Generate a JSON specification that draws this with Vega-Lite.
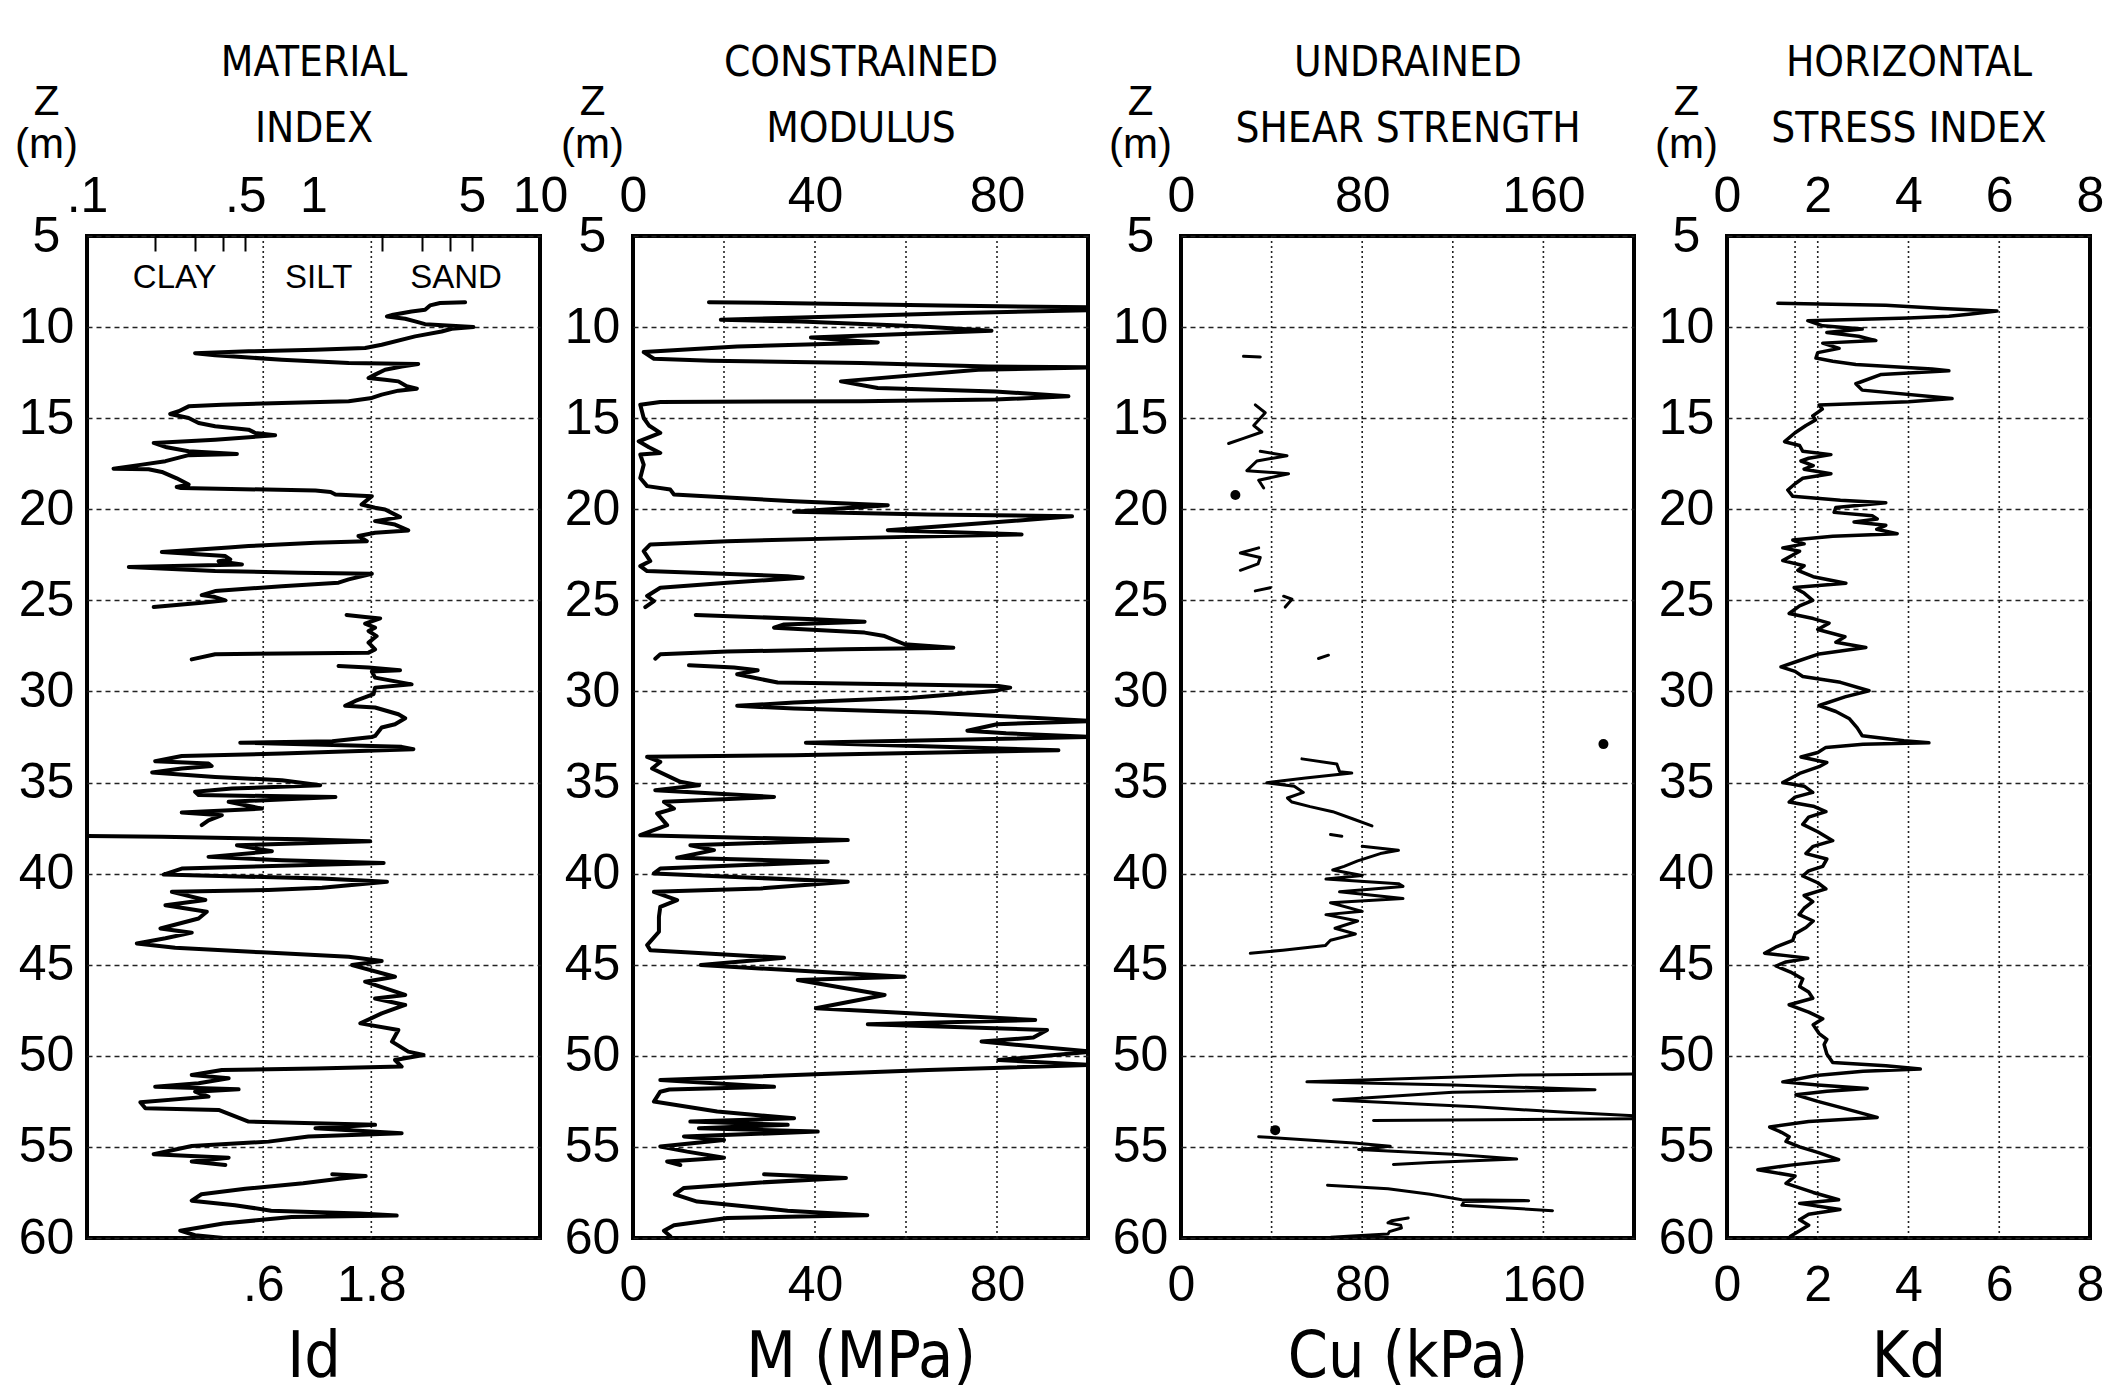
{
  "$schema": "https://vega.github.io/schema/vega-lite/v6.json",
  "background": "white",
  "padding": {"left": 12, "top": 39, "right": 0, "bottom": 0},
  "autosize": {"type": "pad"},
  "spacing": 93,
  "bounds": "flush",
  "config": {
    "font": "Liberation Sans",
    "view": {"stroke": "#000", "strokeWidth": 4},
    "axis": {
      "labelFont": "Liberation Sans", "labelFontSize": 50, "labelColor": "#000",
      "titleColor": "#000", "titleFontWeight": "normal",
      "domain": false, "ticks": false, "tickSize": 0, "grid": false,
      "labelOverlap": false, "labelFlush": false
    }
  },
  "datasets": {
    "mi": [
      {"z":8.63,"v":4.67,"s":1},{"z":8.68,"v":3.62,"s":1},{"z":8.81,"v":3.27,"s":1},{"z":9.05,"v":3.11,"s":1},{"z":9.14,"v":2.71,"s":1},{"z":9.32,"v":2.25,"s":1},{"z":9.42,"v":2.11,"s":1},{"z":9.54,"v":2.54,"s":1},{"z":9.69,"v":2.81,"s":1},{"z":9.84,"v":3.11,"s":1},{"z":10.0,"v":5.08,"s":1},{"z":10.09,"v":4.08,"s":1},{"z":10.24,"v":3.68,"s":1},{"z":10.51,"v":2.81,"s":1},{"z":10.97,"v":2.0,"s":1},{"z":11.15,"v":1.69,"s":1},{"z":11.24,"v":1.02,"s":1},{"z":11.33,"v":0.517,"s":1},{"z":11.43,"v":0.3,"s":1},{"z":11.55,"v":0.368,"s":1},{"z":11.79,"v":0.725,"s":1},{"z":11.97,"v":1.43,"s":1},{"z":12.03,"v":2.9,"s":1},{"z":12.16,"v":2.45,"s":1},{"z":12.34,"v":2.07,"s":1},{"z":12.61,"v":1.87,"s":1},{"z":12.8,"v":1.75,"s":1},{"z":12.89,"v":2.07,"s":1},{"z":12.98,"v":2.37,"s":1},{"z":13.25,"v":2.58,"s":1},{"z":13.38,"v":2.86,"s":1},{"z":13.49,"v":2.37,"s":1},{"z":13.71,"v":2.0,"s":1},{"z":13.89,"v":1.81,"s":1},{"z":14.07,"v":1.43,"s":1},{"z":14.17,"v":0.725,"s":1},{"z":14.26,"v":0.394,"s":1},{"z":14.35,"v":0.281,"s":1},{"z":14.62,"v":0.254,"s":1},{"z":14.77,"v":0.233,"s":1},{"z":14.99,"v":0.281,"s":1},{"z":15.26,"v":0.311,"s":1},{"z":15.44,"v":0.368,"s":1},{"z":15.63,"v":0.517,"s":1},{"z":15.81,"v":0.553,"s":1},{"z":15.94,"v":0.677,"s":1},{"z":16.18,"v":0.368,"s":1},{"z":16.36,"v":0.197,"s":1},{"z":16.6,"v":0.225,"s":1},{"z":16.82,"v":0.281,"s":1},{"z":16.96,"v":0.459,"s":1},{"z":17.03,"v":0.281,"s":1},{"z":17.36,"v":0.222,"s":1},{"z":17.55,"v":0.175,"s":1},{"z":17.77,"v":0.131,"s":1},{"z":17.8,"v":0.187,"s":1},{"z":17.95,"v":0.214,"s":1},{"z":18.3,"v":0.249,"s":1},{"z":18.64,"v":0.281,"s":1},{"z":18.78,"v":0.249,"s":1},{"z":18.83,"v":0.26,"s":1},{"z":18.97,"v":1.02,"s":1},{"z":19.05,"v":1.19,"s":1},{"z":19.19,"v":1.25,"s":1},{"z":19.28,"v":1.81,"s":1},{"z":19.74,"v":1.63,"s":1},{"z":19.92,"v":1.87,"s":1},{"z":20.01,"v":2.07,"s":1},{"z":20.43,"v":2.41,"s":1},{"z":20.65,"v":1.87,"s":1},{"z":20.84,"v":2.29,"s":1},{"z":21.16,"v":2.62,"s":1},{"z":21.29,"v":1.87,"s":1},{"z":21.47,"v":1.58,"s":1},{"z":21.75,"v":1.72,"s":1},{"z":21.84,"v":1.02,"s":1},{"z":22.02,"v":0.517,"s":1},{"z":22.1,"v":0.422,"s":1},{"z":22.35,"v":0.214,"s":1},{"z":22.57,"v":0.408,"s":1},{"z":22.75,"v":0.429,"s":1},{"z":22.85,"v":0.381,"s":1},{"z":23.03,"v":0.483,"s":1},{"z":23.17,"v":0.153,"s":1},{"z":23.39,"v":0.368,"s":1},{"z":23.48,"v":0.859,"s":1},{"z":23.54,"v":1.81,"s":1},{"z":23.85,"v":1.43,"s":1},{"z":24.03,"v":1.29,"s":1},{"z":24.22,"v":0.725,"s":1},{"z":24.49,"v":0.368,"s":1},{"z":24.71,"v":0.321,"s":1},{"z":24.82,"v":0.368,"s":1},{"z":25.0,"v":0.408,"s":1},{"z":25.13,"v":0.321,"s":1},{"z":25.37,"v":0.197,"s":1},
      {"z":25.8,"v":1.4,"s":2},{"z":25.91,"v":1.69,"s":2},{"z":25.99,"v":1.97,"s":2},{"z":26.28,"v":1.69,"s":2},{"z":26.5,"v":1.87,"s":2},{"z":26.68,"v":1.75,"s":2},{"z":26.96,"v":1.9,"s":2},{"z":27.32,"v":1.75,"s":2},{"z":27.69,"v":1.87,"s":2},{"z":27.87,"v":1.75,"s":2},{"z":27.96,"v":0.368,"s":2},{"z":28.24,"v":0.29,"s":2},
      {"z":28.6,"v":1.29,"s":3},{"z":28.69,"v":1.75,"s":3},{"z":28.84,"v":2.41,"s":3},{"z":28.91,"v":1.81,"s":3},{"z":29.24,"v":1.87,"s":3},{"z":29.61,"v":2.71,"s":3},{"z":29.79,"v":1.87,"s":3},{"z":30.15,"v":1.84,"s":3},{"z":30.52,"v":1.53,"s":3},{"z":30.79,"v":1.38,"s":3},{"z":30.88,"v":1.87,"s":3},{"z":31.25,"v":2.37,"s":3},{"z":31.47,"v":2.54,"s":3},{"z":31.8,"v":2.29,"s":3},{"z":31.98,"v":2.0,"s":3},{"z":32.44,"v":1.87,"s":3},{"z":32.5,"v":1.81,"s":3},{"z":32.73,"v":1.21,"s":3},{"z":32.81,"v":0.475,"s":3},{"z":33.04,"v":2.45,"s":3},{"z":33.17,"v":2.76,"s":3},{"z":33.41,"v":0.725,"s":3},{"z":33.54,"v":0.262,"s":3},{"z":33.83,"v":0.2,"s":3},{"z":33.96,"v":0.344,"s":3},{"z":34.09,"v":0.355,"s":3},{"z":34.23,"v":0.262,"s":3},{"z":34.45,"v":0.194,"s":3},{"z":34.69,"v":0.368,"s":3},{"z":34.87,"v":0.725,"s":3},{"z":35.15,"v":1.07,"s":3},{"z":35.33,"v":0.436,"s":3},{"z":35.51,"v":0.3,"s":3},{"z":35.69,"v":0.311,"s":3},{"z":35.79,"v":1.25,"s":3},{"z":36.06,"v":0.422,"s":3},{"z":36.43,"v":0.592,"s":3},{"z":36.65,"v":0.262,"s":3},{"z":36.79,"v":0.394,"s":3},{"z":37.07,"v":0.344,"s":3},{"z":37.34,"v":0.321,"s":3},
      {"z":37.9,"v":0.05,"s":4},{"z":37.98,"v":0.214,"s":4},{"z":38.11,"v":0.889,"s":4},{"z":38.22,"v":1.78,"s":4},{"z":38.44,"v":0.459,"s":4},{"z":38.77,"v":0.655,"s":4},{"z":39.08,"v":0.344,"s":4},{"z":39.26,"v":0.725,"s":4},{"z":39.41,"v":2.04,"s":4},{"z":39.72,"v":0.262,"s":4},{"z":40.05,"v":0.218,"s":4},{"z":40.27,"v":1.09,"s":4},{"z":40.45,"v":2.11,"s":4},{"z":40.78,"v":1.09,"s":4},{"z":40.9,"v":0.633,"s":4},{"z":41.0,"v":0.237,"s":4},{"z":41.45,"v":0.333,"s":4},{"z":41.73,"v":0.222,"s":4},{"z":42.09,"v":0.338,"s":4},{"z":42.46,"v":0.311,"s":4},{"z":43.01,"v":0.211,"s":4},{"z":43.24,"v":0.29,"s":4},{"z":43.55,"v":0.222,"s":4},{"z":43.83,"v":0.166,"s":4},{"z":44.07,"v":0.245,"s":4},{"z":44.32,"v":0.592,"s":4},{"z":44.56,"v":1.43,"s":4},{"z":44.8,"v":2.0,"s":4},{"z":45.02,"v":1.48,"s":4},{"z":45.66,"v":2.29,"s":4},{"z":45.93,"v":1.69,"s":4},{"z":46.66,"v":2.54,"s":4},{"z":46.85,"v":1.87,"s":4},{"z":47.21,"v":2.54,"s":4},{"z":47.67,"v":2.0,"s":4},{"z":48.22,"v":1.61,"s":4},{"z":48.58,"v":2.37,"s":4},{"z":49.22,"v":2.22,"s":4},{"z":49.77,"v":2.62,"s":4},{"z":49.95,"v":3.06,"s":4},{"z":50.23,"v":2.29,"s":4},{"z":50.59,"v":2.45,"s":4},{"z":50.69,"v":1.02,"s":4},{"z":50.78,"v":0.394,"s":4},{"z":51.05,"v":0.29,"s":4},{"z":51.23,"v":0.422,"s":4},{"z":51.51,"v":0.311,"s":4},{"z":51.7,"v":0.2,"s":4},{"z":51.84,"v":0.467,"s":4},{"z":51.97,"v":0.3,"s":4},{"z":52.24,"v":0.344,"s":4},{"z":52.55,"v":0.172,"s":4},{"z":52.88,"v":0.181,"s":4},{"z":52.97,"v":0.381,"s":4},{"z":53.61,"v":0.517,"s":4},{"z":53.79,"v":1.87,"s":4},{"z":53.98,"v":1.02,"s":4},{"z":54.25,"v":2.45,"s":4},{"z":54.43,"v":0.95,"s":4},{"z":54.71,"v":0.633,"s":4},{"z":54.95,"v":0.29,"s":4},{"z":55.4,"v":0.197,"s":4},{"z":55.59,"v":0.422,"s":4},{"z":55.8,"v":0.29,"s":4},{"z":55.99,"v":0.408,"s":4},
      {"z":56.5,"v":1.21,"s":5},{"z":56.6,"v":1.7,"s":5},{"z":56.75,"v":1.3,"s":5},{"z":57.0,"v":0.9,"s":5},{"z":57.3,"v":0.5,"s":5},{"z":57.6,"v":0.32,"s":5},{"z":57.95,"v":0.29,"s":5},{"z":58.2,"v":0.45,"s":5},{"z":58.5,"v":0.65,"s":5},{"z":58.65,"v":1.6,"s":5},{"z":58.77,"v":2.33,"s":5},{"z":58.85,"v":0.8,"s":5},{"z":59.2,"v":0.4,"s":5},{"z":59.6,"v":0.258,"s":5},{"z":59.85,"v":0.3,"s":5},{"z":60.0,"v":0.4,"s":5}
    ],
    "cm": [
      {"z":8.63,"v":16.7,"s":1},{"z":8.74,"v":50.1,"s":1},{"z":8.81,"v":67.8,"s":1},{"z":8.92,"v":101,"s":1},{"z":9.07,"v":101,"s":1},{"z":9.23,"v":72.2,"s":1},{"z":9.47,"v":36.9,"s":1},{"z":9.6,"v":19.3,"s":1},{"z":9.69,"v":36.9,"s":1},{"z":9.96,"v":62.6,"s":1},{"z":10.2,"v":78.8,"s":1},{"z":10.57,"v":39.1,"s":1},{"z":10.84,"v":53.8,"s":1},{"z":11.06,"v":22.9,"s":1},{"z":11.37,"v":2.35,"s":1},{"z":11.74,"v":4.6,"s":1},{"z":11.85,"v":17.1,"s":1},{"z":11.97,"v":50.1,"s":1},{"z":12.16,"v":78.1,"s":1},{"z":12.21,"v":101,"s":1},{"z":12.34,"v":75.9,"s":1},{"z":12.98,"v":45.7,"s":1},{"z":13.34,"v":53.8,"s":1},{"z":13.53,"v":79.6,"s":1},{"z":13.8,"v":95.7,"s":1},{"z":13.98,"v":79.6,"s":1},{"z":14.07,"v":50.1,"s":1},{"z":14.11,"v":6.0,"s":1},{"z":14.26,"v":1.6,"s":1},{"z":14.99,"v":2.35,"s":1},{"z":15.4,"v":3.5,"s":1},{"z":15.81,"v":6.0,"s":1},{"z":16.27,"v":1.25,"s":1},{"z":16.6,"v":3.5,"s":1},{"z":16.91,"v":6.0,"s":1},{"z":17.0,"v":1.6,"s":1},{"z":17.55,"v":2.35,"s":1},{"z":18.28,"v":1.6,"s":1},{"z":18.73,"v":3.1,"s":1},{"z":18.92,"v":8.2,"s":1},{"z":19.19,"v":9.0,"s":1},{"z":19.56,"v":35.4,"s":1},{"z":19.78,"v":56.0,"s":1},{"z":20.14,"v":35.4,"s":1},{"z":20.29,"v":64.9,"s":1},{"z":20.38,"v":96.5,"s":1},{"z":20.65,"v":83.2,"s":1},{"z":21.15,"v":56.0,"s":1},{"z":21.38,"v":85.4,"s":1},{"z":21.57,"v":50.1,"s":1},{"z":21.75,"v":20.7,"s":1},{"z":21.93,"v":3.8,"s":1},{"z":22.3,"v":2.35,"s":1},{"z":22.84,"v":3.8,"s":1},{"z":23.12,"v":1.6,"s":1},{"z":23.39,"v":3.1,"s":1},{"z":23.67,"v":34.0,"s":1},{"z":23.76,"v":37.3,"s":1},{"z":24.03,"v":20.7,"s":1},{"z":24.31,"v":6.0,"s":1},{"z":24.76,"v":3.1,"s":1},{"z":25.04,"v":4.6,"s":1},{"z":25.37,"v":2.7,"s":1},
      {"z":25.8,"v":13.8,"s":2},{"z":26.04,"v":39.9,"s":2},{"z":26.17,"v":50.9,"s":2},{"z":26.32,"v":33.2,"s":2},{"z":26.5,"v":31.0,"s":2},{"z":26.77,"v":50.9,"s":2},{"z":26.96,"v":55.3,"s":2},{"z":27.41,"v":59.7,"s":2},{"z":27.6,"v":70.4,"s":2},{"z":27.69,"v":46.5,"s":2},{"z":27.81,"v":20.7,"s":2},{"z":27.96,"v":6.0,"s":2},{"z":28.2,"v":4.9,"s":2},
      {"z":28.56,"v":12.3,"s":3},{"z":28.69,"v":22.2,"s":3},{"z":28.84,"v":27.4,"s":3},{"z":29.06,"v":22.9,"s":3},{"z":29.51,"v":31.8,"s":3},{"z":29.61,"v":57.5,"s":3},{"z":29.7,"v":80.3,"s":3},{"z":29.79,"v":82.9,"s":3},{"z":29.97,"v":79.6,"s":3},{"z":30.34,"v":61.2,"s":3},{"z":30.61,"v":35.4,"s":3},{"z":30.79,"v":22.9,"s":3},{"z":30.94,"v":35.4,"s":3},{"z":31.16,"v":64.9,"s":3},{"z":31.43,"v":86.9,"s":3},{"z":31.62,"v":101,"s":3},{"z":31.8,"v":80,"s":3},{"z":32.16,"v":73.5,"s":3},{"z":32.3,"v":82,"s":3},{"z":32.5,"v":101,"s":3},{"z":32.81,"v":38.0,"s":3},{"z":33.23,"v":93.5,"s":3},{"z":33.5,"v":35.4,"s":3},{"z":33.59,"v":3.1,"s":3},{"z":33.87,"v":6.0,"s":3},{"z":34.23,"v":4.2,"s":3},{"z":34.96,"v":10.4,"s":3},{"z":35.15,"v":14.5,"s":3},{"z":35.42,"v":4.9,"s":3},{"z":35.79,"v":31.0,"s":3},{"z":36.06,"v":6.8,"s":3},{"z":36.43,"v":9.0,"s":3},{"z":36.7,"v":5.3,"s":3},{"z":37.34,"v":7.5,"s":3},{"z":37.89,"v":1.6,"s":3},{"z":38.16,"v":47.2,"s":3},{"z":38.44,"v":12.6,"s":3},{"z":38.71,"v":17.8,"s":3},{"z":39.13,"v":9.7,"s":3},{"z":39.35,"v":42.8,"s":3},{"z":39.72,"v":6.0,"s":3},{"z":39.99,"v":4.6,"s":3},{"z":40.45,"v":47.2,"s":3},{"z":40.81,"v":28.1,"s":3},{"z":41.0,"v":4.6,"s":3},{"z":41.45,"v":9.7,"s":3},{"z":41.82,"v":6.0,"s":3},{"z":42.37,"v":5.7,"s":3},{"z":43.19,"v":5.7,"s":3},{"z":43.92,"v":3.1,"s":3},{"z":44.2,"v":3.8,"s":3},{"z":44.62,"v":33.2,"s":3},{"z":45.02,"v":14.9,"s":3},{"z":45.66,"v":59.7,"s":3},{"z":45.84,"v":36.2,"s":3},{"z":46.66,"v":55.3,"s":3},{"z":47.39,"v":40.2,"s":3},{"z":48.03,"v":88.4,"s":3},{"z":48.27,"v":51.6,"s":3},{"z":48.58,"v":91.0,"s":3},{"z":49.0,"v":88.0,"s":3},{"z":49.22,"v":76.6,"s":3},{"z":49.77,"v":101,"s":3},{"z":50.23,"v":80.3,"s":3},{"z":50.5,"v":101,"s":3},{"z":50.78,"v":64.9,"s":3},{"z":51.33,"v":6.0,"s":3},{"z":51.7,"v":31.0,"s":3},{"z":51.85,"v":8.0,"s":3},{"z":51.97,"v":6.0,"s":3},{"z":52.51,"v":4.6,"s":3},{"z":53.06,"v":18.5,"s":3},{"z":53.43,"v":35.4,"s":3},{"z":53.61,"v":12.6,"s":3},{"z":53.79,"v":34.0,"s":3},{"z":53.98,"v":14.5,"s":3},{"z":54.16,"v":40.6,"s":3},{"z":54.43,"v":11.2,"s":3},{"z":54.62,"v":20.0,"s":3},{"z":54.98,"v":6.0,"s":3},{"z":55.26,"v":11.9,"s":3},{"z":55.59,"v":20.0,"s":3},{"z":55.8,"v":7.5,"s":3},{"z":55.99,"v":10.4,"s":3},
      {"z":56.5,"v":28.8,"s":4},{"z":56.7,"v":46.8,"s":4},{"z":56.95,"v":28.1,"s":4},{"z":57.25,"v":11.2,"s":4},{"z":57.6,"v":9.2,"s":4},{"z":58.0,"v":14.1,"s":4},{"z":58.5,"v":34.0,"s":4},{"z":58.75,"v":51.5,"s":4},{"z":58.9,"v":20.7,"s":4},{"z":59.3,"v":9.0,"s":4},{"z":59.6,"v":6.8,"s":4},{"z":59.9,"v":8.2,"s":4}
    ],
    "cu": [
      {"z":11.6,"v":27.6,"s":"a"},{"z":11.64,"v":35.0,"s":"a"},
      {"z":14.27,"v":32.8,"s":"b1"},{"z":14.7,"v":37.2,"s":"b1"},{"z":15.4,"v":32.1,"s":"b1"},{"z":15.76,"v":35.7,"s":"b1"},{"z":16.11,"v":27.6,"s":"b1"},{"z":16.39,"v":21.0,"s":"b1"},
      {"z":16.82,"v":35.0,"s":"b2"},{"z":17.06,"v":46.8,"s":"b2"},{"z":17.35,"v":33.5,"s":"b2"},{"z":17.88,"v":29.1,"s":"b2"},{"z":18.05,"v":47.5,"s":"b2"},{"z":18.41,"v":34.3,"s":"b2"},{"z":18.83,"v":36.5,"s":"b2"},
      {"z":22.12,"v":34.3,"s":"d"},{"z":22.4,"v":26.2,"s":"d"},{"z":22.65,"v":35.0,"s":"d"},{"z":23.0,"v":34.0,"s":"d"},{"z":23.35,"v":26.2,"s":"d"},
      {"z":24.31,"v":39.4,"s":"e1"},{"z":24.48,"v":32.8,"s":"e1"},
      {"z":24.77,"v":45.3,"s":"e2"},{"z":24.94,"v":49.0,"s":"e2"},{"z":25.37,"v":46.0,"s":"e2"},
      {"z":28.01,"v":65.1,"s":"f"},{"z":28.19,"v":60.7,"s":"f"},
      {"z":33.7,"v":53.4,"s":"h1"},{"z":33.98,"v":68.8,"s":"h1"},{"z":34.4,"v":70.0,"s":"h1"},{"z":34.48,"v":75.4,"s":"h1"},{"z":34.75,"v":55,"s":"h1"},{"z":35.01,"v":37.9,"s":"h1"},{"z":35.2,"v":50,"s":"h1"},{"z":35.54,"v":54,"s":"h1"},{"z":35.85,"v":47,"s":"h1"},{"z":36.07,"v":49,"s":"h1"},{"z":36.32,"v":57,"s":"h1"},{"z":36.6,"v":67,"s":"h1"},{"z":37.0,"v":76,"s":"h1"},{"z":37.38,"v":84.3,"s":"h1"},
      {"z":37.85,"v":66,"s":"h2"},{"z":37.95,"v":71,"s":"h2"},
      {"z":38.5,"v":80,"s":"h3"},{"z":38.72,"v":96,"s":"h3"},{"z":38.9,"v":88,"s":"h3"},{"z":39.3,"v":78,"s":"h3"},{"z":39.6,"v":72,"s":"h3"},{"z":39.8,"v":67,"s":"h3"},{"z":40.1,"v":80,"s":"h3"},{"z":40.3,"v":64,"s":"h3"},{"z":40.55,"v":96,"s":"h3"},{"z":40.7,"v":98,"s":"h3"},{"z":41.0,"v":70,"s":"h3"},{"z":41.37,"v":98,"s":"h3"},{"z":41.6,"v":66,"s":"h3"},{"z":42.07,"v":80,"s":"h3"},{"z":42.25,"v":64,"s":"h3"},{"z":42.6,"v":78,"s":"h3"},{"z":43.0,"v":68,"s":"h3"},{"z":43.31,"v":77,"s":"h3"},{"z":43.66,"v":66,"s":"h3"},{"z":43.95,"v":63.7,"s":"h3"},{"z":44.2,"v":45,"s":"h3"},{"z":44.37,"v":30.6,"s":"h3"},
      {"z":51.0,"v":202,"s":"i1"},{"z":51.05,"v":150,"s":"i1"},{"z":51.43,"v":55.6,"s":"i1"},{"z":51.6,"v":120,"s":"i1"},{"z":51.86,"v":182.8,"s":"i1"},{"z":52.0,"v":120,"s":"i1"},{"z":52.42,"v":67.4,"s":"i1"},{"z":52.8,"v":130,"s":"i1"},{"z":53.1,"v":170,"s":"i1"},{"z":53.3,"v":202,"s":"i1"},{"z":53.45,"v":202,"s":"i1"},{"z":53.55,"v":85,"s":"i1"},
      {"z":54.44,"v":34.3,"s":"i2"},{"z":54.79,"v":76.2,"s":"i2"},{"z":54.97,"v":92.4,"s":"i2"},{"z":55.14,"v":78.4,"s":"i2"},{"z":55.4,"v":120,"s":"i2"},{"z":55.67,"v":148.2,"s":"i2"},{"z":55.85,"v":110,"s":"i2"},{"z":55.96,"v":93.8,"s":"i2"},
      {"z":57.1,"v":64.7,"s":"i3"},{"z":57.3,"v":91.4,"s":"i3"},{"z":57.6,"v":110,"s":"i3"},{"z":57.9,"v":124,"s":"i3"},{"z":57.95,"v":153.5,"s":"i3"},{"z":58.0,"v":125,"s":"i3"},{"z":58.2,"v":124,"s":"i3"},{"z":58.5,"v":164,"s":"i3"},
      {"z":58.9,"v":100.3,"s":"i4"},{"z":59.05,"v":93,"s":"i4"},{"z":59.17,"v":91.4,"s":"i4"},{"z":59.3,"v":97,"s":"i4"},{"z":59.45,"v":97.3,"s":"i4"},{"z":59.65,"v":92,"s":"i4"},{"z":59.78,"v":91.4,"s":"i4"},{"z":59.9,"v":73.6,"s":"i4"},{"z":59.96,"v":66.2,"s":"i4"}
    ],
    "cudots": [
      {"z":19.22,"v":24.0},{"z":32.89,"v":186.5},{"z":54.08,"v":41.6}
    ],
    "kd": [
      {"z":8.69,"v":1.12},{"z":8.8,"v":3.5},{"z":8.98,"v":4.74},{"z":9.12,"v":5.95},{"z":9.29,"v":5.33},{"z":9.4,"v":4.89},{"z":9.5,"v":4.0},{"z":9.65,"v":1.78},{"z":9.93,"v":2.11},{"z":10.11,"v":2.98},{"z":10.3,"v":2.2},{"z":10.5,"v":2.9},{"z":10.74,"v":3.28},{"z":10.88,"v":2.11},{"z":11.17,"v":2.47},{"z":11.4,"v":2.0},{"z":11.7,"v":1.96},{"z":11.87,"v":2.33},{"z":12.05,"v":2.84},{"z":12.3,"v":4.52},{"z":12.4,"v":4.89},{"z":12.6,"v":3.4},{"z":13.11,"v":2.84},{"z":13.46,"v":2.98},{"z":13.92,"v":4.96},{"z":14.1,"v":4.0},{"z":14.27,"v":2.03},{"z":14.5,"v":2.1},{"z":14.87,"v":1.89},{"z":15.1,"v":1.95},{"z":15.4,"v":1.74},{"z":15.8,"v":1.5},{"z":16.29,"v":1.27},{"z":16.5,"v":1.6},{"z":16.82,"v":1.67},{"z":17.0,"v":2.29},{"z":17.2,"v":1.8},{"z":17.35,"v":1.63},{"z":17.6,"v":1.9},{"z":17.8,"v":1.7},{"z":18.05,"v":2.29},{"z":18.3,"v":1.67},{"z":18.6,"v":1.5},{"z":18.94,"v":1.34},{"z":19.29,"v":1.45},{"z":19.5,"v":2.5},{"z":19.64,"v":3.5},{"z":19.9,"v":2.4},{"z":20.17,"v":2.36},{"z":20.35,"v":3.2},{"z":20.53,"v":3.31},{"z":20.7,"v":2.8},{"z":20.88,"v":3.5},{"z":21.1,"v":3.3},{"z":21.34,"v":3.75},{"z":21.48,"v":2.33},{"z":21.69,"v":1.45},{"z":21.9,"v":1.7},{"z":22.12,"v":1.23},{"z":22.3,"v":1.6},{"z":22.47,"v":1.48},{"z":22.82,"v":1.23},{"z":23.1,"v":1.7},{"z":23.35,"v":1.56},{"z":23.7,"v":1.9},{"z":24.06,"v":2.62},{"z":24.3,"v":1.48},{"z":24.6,"v":1.7},{"z":25.0,"v":1.89},{"z":25.3,"v":1.6},{"z":25.72,"v":1.37},{"z":26.0,"v":1.9},{"z":26.25,"v":2.25},{"z":26.6,"v":2.0},{"z":27.0,"v":2.6},{"z":27.3,"v":2.4},{"z":27.59,"v":3.06},{"z":27.94,"v":2.03},{"z":28.3,"v":1.6},{"z":28.65,"v":1.19},{"z":28.9,"v":1.5},{"z":29.18,"v":1.67},{"z":29.5,"v":2.5},{"z":29.96,"v":3.13},{"z":30.3,"v":2.6},{"z":30.77,"v":2.03},{"z":31.1,"v":2.4},{"z":31.5,"v":2.7},{"z":32.0,"v":2.87},{"z":32.43,"v":2.98},{"z":32.7,"v":3.9},{"z":32.82,"v":4.45},{"z":32.9,"v":3.0},{"z":33.07,"v":2.18},{"z":33.35,"v":2.0},{"z":33.6,"v":1.63},{"z":33.9,"v":2.2},{"z":34.13,"v":2.03},{"z":34.5,"v":1.6},{"z":35.0,"v":1.23},{"z":35.2,"v":1.7},{"z":35.54,"v":1.89},{"z":35.8,"v":1.5},{"z":36.07,"v":1.37},{"z":36.3,"v":1.9},{"z":36.6,"v":2.18},{"z":36.9,"v":1.8},{"z":37.3,"v":1.67},{"z":37.7,"v":2.0},{"z":38.19,"v":2.33},{"z":38.5,"v":1.9},{"z":38.9,"v":1.74},{"z":39.2,"v":2.2},{"z":39.6,"v":2.11},{"z":39.85,"v":1.8},{"z":40.13,"v":1.67},{"z":40.5,"v":2.0},{"z":40.84,"v":2.18},{"z":41.2,"v":1.7},{"z":41.54,"v":1.89},{"z":41.9,"v":1.7},{"z":42.25,"v":1.59},{"z":42.6,"v":1.9},{"z":42.96,"v":1.74},{"z":43.3,"v":1.5},{"z":43.66,"v":1.45},{"z":44.0,"v":1.1},{"z":44.37,"v":0.83},{"z":44.5,"v":1.3},{"z":44.65,"v":1.78},{"z":44.85,"v":1.3},{"z":45.07,"v":1.08},{"z":45.4,"v":1.4},{"z":45.78,"v":1.67},{"z":46.2,"v":1.6},{"z":46.5,"v":1.8},{"z":46.84,"v":1.89},{"z":47.2,"v":1.37},{"z":47.6,"v":1.8},{"z":47.97,"v":2.11},{"z":48.3,"v":1.9},{"z":48.78,"v":2.03},{"z":49.1,"v":2.2},{"z":49.38,"v":2.14},{"z":49.9,"v":2.2},{"z":50.37,"v":2.33},{"z":50.55,"v":3.5},{"z":50.73,"v":4.26},{"z":50.85,"v":3.0},{"z":51.08,"v":1.96},{"z":51.43,"v":1.23},{"z":51.6,"v":2.0},{"z":51.79,"v":3.09},{"z":51.95,"v":2.2},{"z":52.14,"v":1.52},{"z":52.5,"v":2.0},{"z":52.9,"v":2.6},{"z":53.38,"v":3.31},{"z":53.6,"v":1.8},{"z":53.91,"v":0.94},{"z":54.2,"v":1.2},{"z":54.44,"v":1.37},{"z":54.7,"v":1.3},{"z":55.0,"v":1.6},{"z":55.3,"v":2.0},{"z":55.7,"v":2.46},{"z":56.0,"v":1.4},{"z":56.25,"v":0.68},{"z":56.6,"v":1.5},{"z":57.0,"v":1.3},{"z":57.5,"v":1.9},{"z":57.9,"v":2.46},{"z":58.1,"v":1.6},{"z":58.44,"v":2.49},{"z":58.7,"v":1.8},{"z":59.0,"v":1.6},{"z":59.3,"v":1.8},{"z":59.6,"v":1.6},{"z":59.9,"v":1.4}
    ]
  },
  "hconcat": [
    {
      "width": 453, "height": 1002,
      "resolve": {"axis": {"x": "independent", "y": "independent"}},
      "layer": [
        {
          "data": {"values": [{"g": 0.6}, {"g": 1.8}]},
          "mark": {"type": "rule", "stroke": "#222", "strokeWidth": 1.6, "strokeDash": [2, 3]},
          "encoding": {
            "x": {"field": "g", "type": "quantitative", "scale": {"type": "log", "domain": [0.1, 10], "nice": false},
              "axis": {"orient": "bottom", "values": [0.6, 1.8], "format": "~g", "labelExpr": "datum.value < 1 ? '.' + round(datum.value*10) : datum.label", "labelBaseline": "alphabetic", "labelPadding": 62,
                "title": "Id", "titleFont": "DejaVu Sans Condensed, Liberation Sans Narrow, Liberation Sans", "titleFontSize": 64, "titleBaseline": "alphabetic", "titleY": 138}}
          }
        },
        {
          "data": {"name": "mi"},
          "mark": {"type": "line", "clip": true, "color": "#000", "strokeWidth": 4, "strokeJoin": "round", "strokeCap": "round"},
          "encoding": {
            "x": {"field": "v", "type": "quantitative", "scale": {"type": "log", "domain": [0.1, 10], "nice": false},
              "axis": {"orient": "top", "values": [0.1, 0.5, 1, 5, 10], "format": "~g", "labelExpr": "datum.value < 1 ? '.' + round(datum.value*10) : datum.label", "labelBaseline": "alphabetic", "labelPadding": 25,
                "title": ["MATERIAL", "INDEX"], "titleFont": "DejaVu Sans Condensed, Liberation Sans Narrow, Liberation Sans", "titleFontSize": 42, "titleBaseline": "alphabetic", "titleY": -161, "titleLineHeight": 66}},
            "y": {"field": "z", "type": "quantitative", "scale": {"domain": [5, 60], "reverse": true, "nice": false, "zero": false},
              "axis": {"orient": "left", "values": [5,10,15,20,25,30,35,40,45,50,55,60], "grid": true, "gridDash": [5, 4], "gridColor": "#222", "gridWidth": 1.5,
                "labelAlign": "center", "labelBaseline": "middle", "labelPadding": 41,
                "title": ["Z", "(m)"], "titleAngle": 0, "titleFontSize": 42, "titleX": -41, "titleY": -122, "titleAlign": "center", "titleBaseline": "alphabetic", "titleLineHeight": 43}},
            "detail": {"field": "s"},
            "order": {"field": "z", "type": "quantitative"}
          }
        },
        {
          "data": {"values": [{"t": "CLAY", "v": 0.244, "z": 7.85}, {"t": "SILT", "v": 1.054, "z": 7.85}, {"t": "SAND", "v": 4.26, "z": 7.85}]},
          "mark": {"type": "text", "fontSize": 33, "baseline": "alphabetic", "align": "center", "font": "Liberation Sans", "color": "#000"},
          "encoding": {
            "x": {"field": "v", "type": "quantitative", "scale": {"type": "log", "domain": [0.1, 10], "nice": false},
              "axis": {"orient": "top", "values": [0.2, 0.3, 0.4, 0.5, 2, 3, 4, 5], "labels": false, "ticks": true, "tickSize": -15, "tickWidth": 2, "tickColor": "#000", "title": null}},
            "y": {"field": "z", "type": "quantitative", "scale": {"domain": [5, 60], "reverse": true, "nice": false, "zero": false}, "axis": null},
            "text": {"field": "t"}
          }
        }
      ]
    },
    {
      "width": 455, "height": 1002,
      "resolve": {"axis": {"x": "independent", "y": "independent"}},
      "layer": [
        {
          "data": {"values": [{"g": 20}, {"g": 40}, {"g": 60}, {"g": 80}]},
          "mark": {"type": "rule", "stroke": "#222", "strokeWidth": 1.6, "strokeDash": [2, 3]},
          "encoding": {
            "x": {"field": "g", "type": "quantitative", "scale": {"domain": [0, 100], "nice": false, "zero": false},
              "axis": {"orient": "bottom", "values": [0, 40, 80], "format": "d", "labelBaseline": "alphabetic", "labelPadding": 62,
                "title": "M (MPa)", "titleFont": "DejaVu Sans Condensed, Liberation Sans Narrow, Liberation Sans", "titleFontSize": 64, "titleBaseline": "alphabetic", "titleY": 138}}
          }
        },
        {
          "data": {"name": "cm"},
          "mark": {"type": "line", "clip": true, "color": "#000", "strokeWidth": 4, "strokeJoin": "round", "strokeCap": "round"},
          "encoding": {
            "x": {"field": "v", "type": "quantitative", "scale": {"domain": [0, 100], "nice": false, "zero": false},
              "axis": {"orient": "top", "values": [0, 40, 80], "format": "d", "labelBaseline": "alphabetic", "labelPadding": 25,
                "title": ["CONSTRAINED", "MODULUS"], "titleFont": "DejaVu Sans Condensed, Liberation Sans Narrow, Liberation Sans", "titleFontSize": 42, "titleBaseline": "alphabetic", "titleY": -161, "titleLineHeight": 66}},
            "y": {"field": "z", "type": "quantitative", "scale": {"domain": [5, 60], "reverse": true, "nice": false, "zero": false},
              "axis": {"orient": "left", "values": [5,10,15,20,25,30,35,40,45,50,55,60], "grid": true, "gridDash": [5, 4], "gridColor": "#222", "gridWidth": 1.5,
                "labelAlign": "center", "labelBaseline": "middle", "labelPadding": 41,
                "title": ["Z", "(m)"], "titleAngle": 0, "titleFontSize": 42, "titleX": -41, "titleY": -122, "titleAlign": "center", "titleBaseline": "alphabetic", "titleLineHeight": 43}},
            "detail": {"field": "s"},
            "order": {"field": "z", "type": "quantitative"}
          }
        }
      ]
    },
    {
      "width": 453, "height": 1002,
      "resolve": {"axis": {"x": "independent", "y": "independent"}},
      "layer": [
        {
          "data": {"values": [{"g": 40}, {"g": 80}, {"g": 120}, {"g": 160}]},
          "mark": {"type": "rule", "stroke": "#222", "strokeWidth": 1.6, "strokeDash": [2, 3]},
          "encoding": {
            "x": {"field": "g", "type": "quantitative", "scale": {"domain": [0, 200], "nice": false, "zero": false},
              "axis": {"orient": "bottom", "values": [0, 80, 160], "format": "d", "labelBaseline": "alphabetic", "labelPadding": 62,
                "title": "Cu (kPa)", "titleFont": "DejaVu Sans Condensed, Liberation Sans Narrow, Liberation Sans", "titleFontSize": 64, "titleBaseline": "alphabetic", "titleY": 138}}
          }
        },
        {
          "data": {"name": "cu"},
          "mark": {"type": "line", "clip": true, "color": "#000", "strokeWidth": 3, "strokeJoin": "round", "strokeCap": "round"},
          "encoding": {
            "x": {"field": "v", "type": "quantitative", "scale": {"domain": [0, 200], "nice": false, "zero": false},
              "axis": {"orient": "top", "values": [0, 80, 160], "format": "d", "labelBaseline": "alphabetic", "labelPadding": 25,
                "title": ["UNDRAINED", "SHEAR STRENGTH"], "titleFont": "DejaVu Sans Condensed, Liberation Sans Narrow, Liberation Sans", "titleFontSize": 42, "titleBaseline": "alphabetic", "titleY": -161, "titleLineHeight": 66}},
            "y": {"field": "z", "type": "quantitative", "scale": {"domain": [5, 60], "reverse": true, "nice": false, "zero": false},
              "axis": {"orient": "left", "values": [5,10,15,20,25,30,35,40,45,50,55,60], "grid": true, "gridDash": [5, 4], "gridColor": "#222", "gridWidth": 1.5,
                "labelAlign": "center", "labelBaseline": "middle", "labelPadding": 41,
                "title": ["Z", "(m)"], "titleAngle": 0, "titleFontSize": 42, "titleX": -41, "titleY": -122, "titleAlign": "center", "titleBaseline": "alphabetic", "titleLineHeight": 43}},
            "detail": {"field": "s"},
            "order": {"field": "z", "type": "quantitative"}
          }
        },
        {
          "data": {"name": "cudots"},
          "mark": {"type": "point", "filled": true, "size": 100, "color": "#000", "opacity": 1},
          "encoding": {
            "x": {"field": "v", "type": "quantitative", "scale": {"domain": [0, 200], "nice": false, "zero": false}, "axis": null},
            "y": {"field": "z", "type": "quantitative", "scale": {"domain": [5, 60], "reverse": true, "nice": false, "zero": false}, "axis": null}
          }
        }
      ]
    },
    {
      "width": 363, "height": 1002,
      "resolve": {"axis": {"x": "independent", "y": "independent"}},
      "layer": [
        {
          "data": {"values": [{"g": 1.5}, {"g": 2}, {"g": 4}, {"g": 6}]},
          "mark": {"type": "rule", "stroke": "#222", "strokeWidth": 1.6, "strokeDash": [2, 3]},
          "encoding": {
            "x": {"field": "g", "type": "quantitative", "scale": {"domain": [0, 8], "nice": false, "zero": false},
              "axis": {"orient": "bottom", "values": [0, 2, 4, 6, 8], "format": "d", "labelBaseline": "alphabetic", "labelPadding": 62,
                "title": "Kd", "titleFont": "DejaVu Sans Condensed, Liberation Sans Narrow, Liberation Sans", "titleFontSize": 64, "titleBaseline": "alphabetic", "titleY": 138}}
          }
        },
        {
          "data": {"name": "kd"},
          "mark": {"type": "line", "clip": true, "color": "#000", "strokeWidth": 3.5, "strokeJoin": "round", "strokeCap": "round"},
          "encoding": {
            "x": {"field": "v", "type": "quantitative", "scale": {"domain": [0, 8], "nice": false, "zero": false},
              "axis": {"orient": "top", "values": [0, 2, 4, 6, 8], "format": "d", "labelBaseline": "alphabetic", "labelPadding": 25,
                "title": ["HORIZONTAL", "STRESS INDEX"], "titleFont": "DejaVu Sans Condensed, Liberation Sans Narrow, Liberation Sans", "titleFontSize": 42, "titleBaseline": "alphabetic", "titleY": -161, "titleLineHeight": 66}},
            "y": {"field": "z", "type": "quantitative", "scale": {"domain": [5, 60], "reverse": true, "nice": false, "zero": false},
              "axis": {"orient": "left", "values": [5,10,15,20,25,30,35,40,45,50,55,60], "grid": true, "gridDash": [5, 4], "gridColor": "#222", "gridWidth": 1.5,
                "labelAlign": "center", "labelBaseline": "middle", "labelPadding": 41,
                "title": ["Z", "(m)"], "titleAngle": 0, "titleFontSize": 42, "titleX": -41, "titleY": -122, "titleAlign": "center", "titleBaseline": "alphabetic", "titleLineHeight": 43}},
            "order": {"field": "z", "type": "quantitative"}
          }
        }
      ]
    }
  ]
}
